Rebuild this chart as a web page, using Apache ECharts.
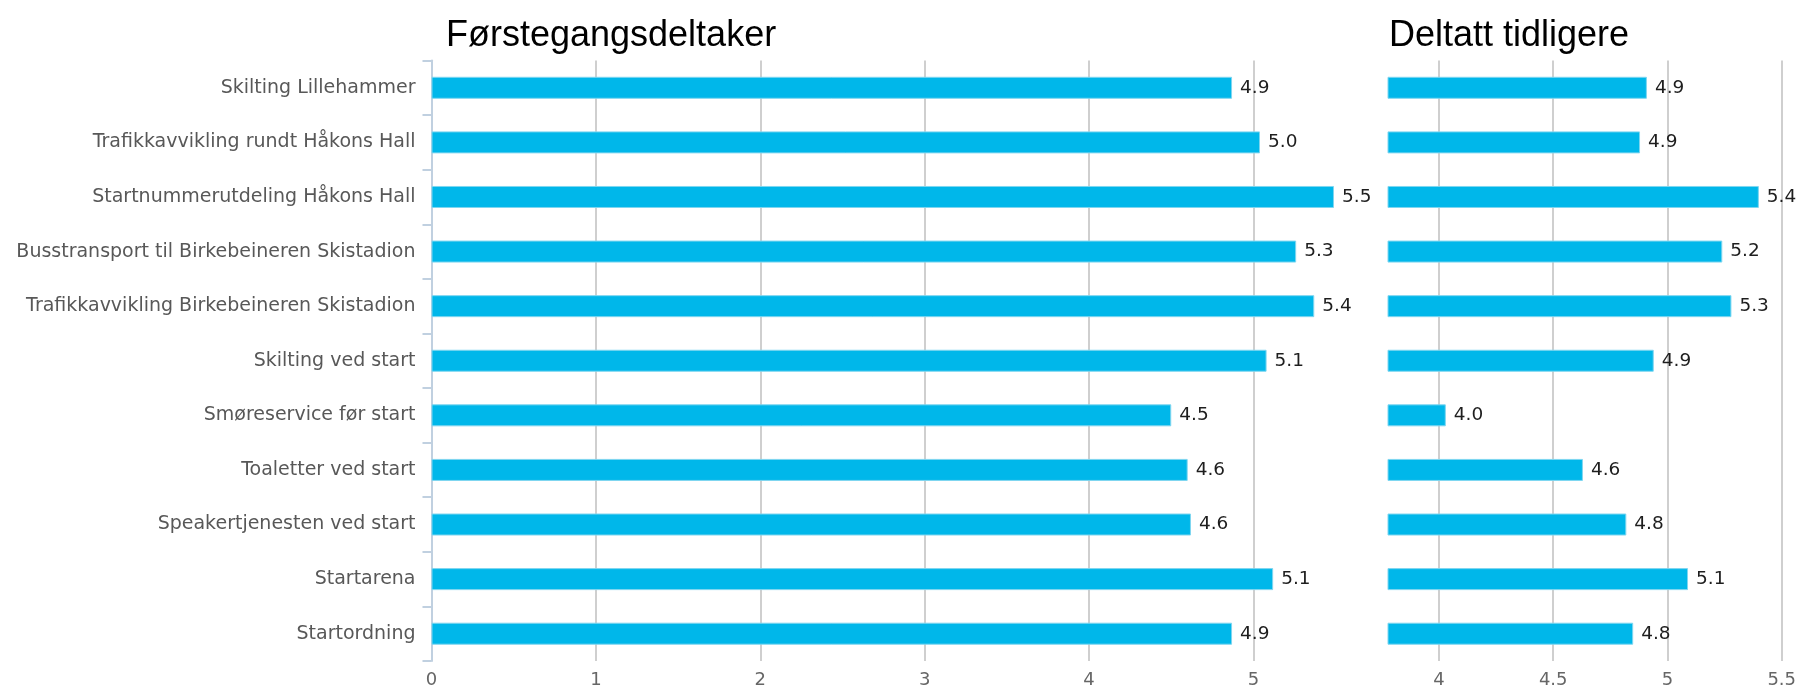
<!DOCTYPE html>
<html>
<head>
<meta charset="utf-8">
<script src="https://cdn.jsdelivr.net/npm/echarts@6/dist/echarts.min.js"></script>
<style>
  html, body { margin: 0; padding: 0; background: #fff; }
  #chart { width: 1799px; height: 689px; }
</style>
</head>
<body>
<div id="chart"></div>
<script>
// categories, top to bottom
const categories = [
    'Skilting Lillehammer',
    'Trafikkavvikling rundt Håkons Hall',
    'Startnummerutdeling Håkons Hall',
    'Busstransport til Birkebeineren Skistadion',
    'Trafikkavvikling Birkebeineren Skistadion',
    'Skilting ved start',
    'Smøreservice før start',
    'Toaletter ved start',
    'Speakertjenesten ved start',
    'Startarena',
    'Startordning'
];

// Førstegangsdeltaker
const firstTimers = [4.87, 5.04, 5.49, 5.26, 5.37, 5.08, 4.50, 4.60, 4.62, 5.12, 4.87];
// Deltatt tidligere
const returning = [4.91, 4.88, 5.40, 5.24, 5.28, 4.94, 4.03, 4.63, 4.82, 5.09, 4.85];

const leftTicks = [0, 1, 2, 3, 4, 5];
const rightTicks = [4, 4.5, 5, 5.5];

const barColor = '#00B7EA';
const labelFont = 'DejaVu Sans';

const chart = echarts.init(document.getElementById('chart'));

const valueLabel = {
    show: true,
    position: 'right',
    distance: 8,
    formatter: p => p.value.toFixed(1),
    fontFamily: labelFont,
    fontSize: 18.5,
    color: '#1e1e1e'
};

const xAxisCommon = {
    type: 'value',
    axisLine: { show: false },
    axisTick: { show: false },
    axisLabel: { fontFamily: labelFont, fontSize: 18, color: '#666', margin: 10 },
    splitLine: { show: true, lineStyle: { color: '#cfcfcf', width: 2 } }
};

const titleStyle = { fontFamily: 'Liberation Sans', fontSize: 36, fontWeight: 'normal', color: '#000' };

const option = {
    animation: false,
    backgroundColor: '#fff',
    title: [
        { text: 'Førstegangsdeltaker', left: 441, top: 13, textStyle: titleStyle },
        { text: 'Deltatt tidligere', left: 1384, top: 13, textStyle: titleStyle }
    ],
    grid: [
        { left: 431.5, top: 60.5, width: 937, height: 600.5, outerBoundsMode: 'none' },
        { left: 1388, top: 60.5, width: 393.7, height: 600.5, outerBoundsMode: 'none' }
    ],
    xAxis: [
        Object.assign({}, xAxisCommon, {
            gridIndex: 0,
            min: 0,
            max: 5.7,
            axisTick: { show: false, customValues: leftTicks },
            axisLabel: Object.assign({}, xAxisCommon.axisLabel, { customValues: leftTicks })
        }),
        Object.assign({}, xAxisCommon, {
            gridIndex: 1,
            min: 3.777,
            max: 5.5,
            axisTick: { show: false, customValues: rightTicks },
            axisLabel: Object.assign({}, xAxisCommon.axisLabel, { customValues: rightTicks })
        })
    ],
    yAxis: [
        {
            type: 'category',
            gridIndex: 0,
            data: categories,
            inverse: true,
            axisLine: { show: true, lineStyle: { color: '#C0D0E0', width: 2 } },
            axisTick: { show: true, length: 9, lineStyle: { color: '#C0D0E0', width: 2 } },
            axisLabel: { fontFamily: labelFont, fontSize: 19, color: '#585858', margin: 16 },
            splitLine: { show: false }
        },
        {
            type: 'category',
            gridIndex: 1,
            data: categories,
            inverse: true,
            show: false
        }
    ],
    series: [
        {
            name: 'Førstegangsdeltaker',
            type: 'bar',
            xAxisIndex: 0,
            yAxisIndex: 0,
            data: firstTimers,
            barWidth: 22,
            itemStyle: { color: barColor, borderColor: '#7fd6f0', borderWidth: 1 },
            label: valueLabel
        },
        {
            name: 'Deltatt tidligere',
            type: 'bar',
            xAxisIndex: 1,
            yAxisIndex: 1,
            data: returning,
            barWidth: 22,
            itemStyle: { color: barColor, borderColor: '#7fd6f0', borderWidth: 1 },
            label: valueLabel
        }
    ]
};

chart.setOption(option);
window.addEventListener('resize', () => chart.resize());
</script>
</body>
</html>
